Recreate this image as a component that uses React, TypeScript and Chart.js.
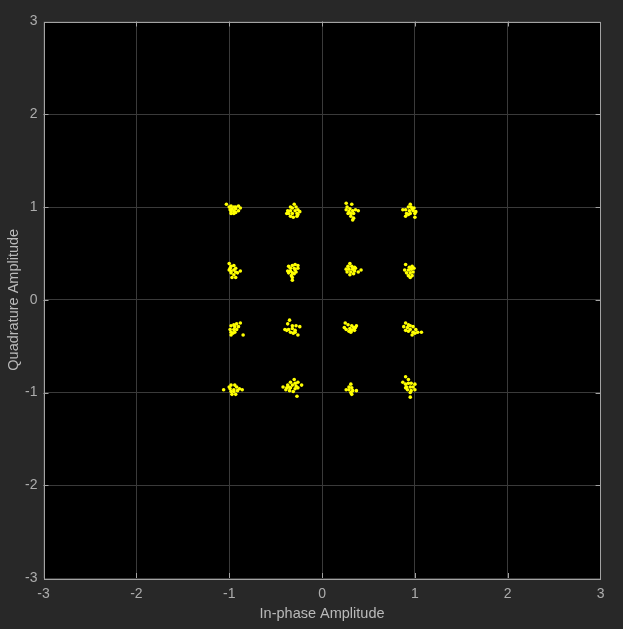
import React, { useEffect, useRef } from "react";
import { Chart, registerables } from "chart.js";

Chart.register(...registerables);

// Axis ticks
const xTicks = [-3, -2, -1, 0, 1, 2, 3];
const yTicks = [-3, -2, -1, 0, 1, 2, 3];

// Received symbols, grouped by constellation point (I, Q)
const symM1P1: [number, number][] = [
  [-1.03, 1.03], [-1.0, 1.0], [-0.98, 1.01], [-0.95, 1.0], [-0.93, 1.0], [-0.9, 1.01], [-0.88, 0.99], [-0.99, 0.97],
  [-0.97, 0.98], [-0.95, 0.96], [-0.93, 0.98], [-0.9, 0.96], [-0.98, 0.95], [-0.95, 0.93], [-0.93, 0.94], [-0.98, 0.93],
];
const symM3P1: [number, number][] = [
  [-0.3, 1.03], [-0.34, 1.0], [-0.32, 0.99], [-0.28, 1.0], [-0.26, 0.97], [-0.37, 0.96], [-0.34, 0.96], [-0.29, 0.96],
  [-0.24, 0.95], [-0.36, 0.93], [-0.32, 0.93], [-0.27, 0.93], [-0.34, 0.9], [-0.31, 0.89], [-0.27, 0.9], [-0.38, 0.93], [-0.26, 0.92],
];
const symP3P1: [number, number][] = [
  [0.26, 1.04], [0.32, 1.03], [0.27, 1.0], [0.3, 0.98], [0.26, 0.97], [0.29, 0.95], [0.33, 0.96], [0.36, 0.97],
  [0.39, 0.96], [0.28, 0.93], [0.31, 0.93], [0.34, 0.93], [0.31, 0.9], [0.34, 0.88], [0.33, 0.86],
];
const symP1P1: [number, number][] = [
  [0.95, 1.03], [0.93, 1.0], [0.96, 1.0], [0.99, 0.99], [0.87, 0.97], [0.9, 0.97], [0.94, 0.96], [0.98, 0.96],
  [1.01, 0.95], [0.91, 0.93], [0.95, 0.93], [1.0, 0.93], [0.9, 0.9], [0.93, 0.92], [1.0, 0.89], [0.97, 0.98],
];
const symM1P3: [number, number][] = [
  [-1.0, 0.39], [-0.98, 0.36], [-0.95, 0.37], [-0.93, 0.34], [-1.0, 0.32], [-0.98, 0.31], [-0.95, 0.32], [-0.93, 0.3],
  [-0.88, 0.31], [-0.98, 0.29], [-0.95, 0.27], [-0.91, 0.29], [-0.93, 0.24], [-0.97, 0.24], [-0.99, 0.34],
];
const symM3P3: [number, number][] = [
  [-0.36, 0.36], [-0.32, 0.37], [-0.29, 0.38], [-0.26, 0.37], [-0.34, 0.34], [-0.3, 0.34], [-0.26, 0.34], [-0.37, 0.31],
  [-0.34, 0.31], [-0.29, 0.32], [-0.36, 0.29], [-0.32, 0.29], [-0.28, 0.3], [-0.33, 0.26], [-0.32, 0.24], [-0.32, 0.21], [-0.3, 0.28],
];
const symP3P3: [number, number][] = [
  [0.3, 0.39], [0.28, 0.36], [0.32, 0.36], [0.35, 0.35], [0.26, 0.33], [0.29, 0.33], [0.33, 0.33], [0.36, 0.34],
  [0.42, 0.32], [0.27, 0.3], [0.31, 0.3], [0.35, 0.31], [0.39, 0.3], [0.3, 0.27], [0.34, 0.28],
];
const symP1P3: [number, number][] = [
  [0.9, 0.38], [0.94, 0.35], [0.97, 0.36], [0.89, 0.32], [0.93, 0.32], [0.96, 0.33], [0.99, 0.34], [0.91, 0.29],
  [0.95, 0.29], [0.98, 0.3], [0.93, 0.26], [0.97, 0.26], [0.95, 0.24],
];
const symM1M3: [number, number][] = [
  [-0.88, -0.25], [-0.92, -0.26], [-0.95, -0.27], [-0.98, -0.28], [-0.94, -0.29], [-0.9, -0.29], [-0.99, -0.32],
  [-0.95, -0.32], [-0.92, -0.32], [-0.98, -0.35], [-0.94, -0.35], [-0.85, -0.38], [-0.98, -0.38], [-0.96, -0.36],
];
const symM3M3: [number, number][] = [
  [-0.35, -0.22], [-0.37, -0.26], [-0.32, -0.28], [-0.28, -0.28], [-0.24, -0.29], [-0.4, -0.32], [-0.36, -0.32],
  [-0.32, -0.31], [-0.29, -0.33], [-0.34, -0.35], [-0.29, -0.35], [-0.26, -0.38], [-0.31, -0.36], [-0.38, -0.33],
];
const symP3M3: [number, number][] = [
  [0.25, -0.25], [0.24, -0.3], [0.28, -0.27], [0.32, -0.28], [0.37, -0.28], [0.26, -0.32], [0.3, -0.31], [0.34, -0.3],
  [0.36, -0.3], [0.29, -0.34], [0.32, -0.33], [0.35, -0.33], [0.31, -0.35],
];
const symP1M3: [number, number][] = [
  [0.9, -0.25], [0.93, -0.27], [0.88, -0.29], [0.92, -0.3], [0.95, -0.28], [0.98, -0.29], [1.01, -0.32], [0.9, -0.33],
  [0.93, -0.34], [0.98, -0.35], [1.03, -0.35], [1.07, -0.35], [1.0, -0.36], [0.97, -0.38], [0.95, -0.32],
];
const symM1M1: [number, number][] = [
  [-1.06, -0.97], [-0.98, -0.92], [-0.94, -0.92], [-0.92, -0.94], [-0.89, -0.96], [-0.86, -0.97], [-0.99, -0.96],
  [-0.95, -0.97], [-0.98, -0.99], [-0.95, -0.99], [-0.91, -0.98], [-0.97, -1.02], [-0.93, -1.02], [-1.0, -0.94],
];
const symM3M1: [number, number][] = [
  [-0.3, -0.86], [-0.34, -0.89], [-0.29, -0.9], [-0.26, -0.89], [-0.37, -0.92], [-0.32, -0.92], [-0.28, -0.93],
  [-0.22, -0.92], [-0.42, -0.94], [-0.38, -0.95], [-0.34, -0.95], [-0.29, -0.96], [-0.26, -0.95], [-0.39, -0.97],
  [-0.35, -0.98], [-0.31, -0.99], [-0.27, -1.04], [-0.36, -0.94],
];
const symP3M1: [number, number][] = [
  [0.31, -0.91], [0.29, -0.94], [0.32, -0.95], [0.26, -0.97], [0.29, -0.97], [0.33, -0.98], [0.37, -0.98],
  [0.31, -1.0], [0.32, -1.02],
];
const symP1M1: [number, number][] = [
  [0.9, -0.83], [0.93, -0.86], [0.87, -0.89], [0.9, -0.91], [0.93, -0.9], [0.96, -0.9], [1.0, -0.91], [0.91, -0.94],
  [0.95, -0.94], [0.98, -0.94], [0.92, -0.97], [0.96, -0.98], [1.0, -0.97], [0.95, -1.0], [0.95, -1.05], [0.9, -0.95],
];

const clusters = [
  symM1P1, symM3P1, symP3P1, symP1P1,
  symM1P3, symM3P3, symP3P3, symP1P3,
  symM1M3, symM3M3, symP3M3, symP1M3,
  symM1M1, symM3M1, symP3M1, symP1M1,
];

const BOX = "#a3a3a3";
const FONT = "'Liberation Sans', Arial, Helvetica, sans-serif";

const framePlugin = {
  id: "frame",
  beforeDraw(chart: any) {
    const { ctx, chartArea, width, height } = chart;
    ctx.save();
    ctx.fillStyle = "#282828";
    ctx.fillRect(0, 0, width, height);
    ctx.fillStyle = "#000000";
    ctx.fillRect(chartArea.left, chartArea.top, chartArea.right - chartArea.left, chartArea.bottom - chartArea.top);
    ctx.restore();
  },
  afterDatasetsDraw(chart: any) {
    const { ctx, chartArea } = chart;
    const xs = chart.scales.x;
    const ys = chart.scales.y;
    const len = 5;
    ctx.save();
    ctx.strokeStyle = BOX;
    ctx.lineWidth = 1;
    ctx.beginPath();
    for (const v of xTicks.slice(1, -1)) {
      const px = Math.round(xs.getPixelForValue(v)) + 0.5;
      ctx.moveTo(px, chartArea.bottom);
      ctx.lineTo(px, chartArea.bottom - len);
      ctx.moveTo(px, chartArea.top);
      ctx.lineTo(px, chartArea.top + len);
    }
    for (const v of yTicks.slice(1, -1)) {
      const py = Math.round(ys.getPixelForValue(v)) + 0.5;
      ctx.moveTo(chartArea.left, py);
      ctx.lineTo(chartArea.left + len, py);
      ctx.moveTo(chartArea.right, py);
      ctx.lineTo(chartArea.right - len, py);
    }
    ctx.stroke();
    ctx.strokeRect(
      Math.round(chartArea.left) + 0.5,
      Math.round(chartArea.top) + 0.5,
      Math.round(chartArea.right - chartArea.left) - 1,
      Math.round(chartArea.bottom - chartArea.top)
    );
    ctx.restore();
  },
};

export default function App() {
  const ref = useRef<HTMLCanvasElement | null>(null);

  useEffect(() => {
    if (!ref.current) return;
    const chart = new Chart(ref.current, {
      type: "scatter",
      data: {
        datasets: clusters.map((pts) => ({
          data: pts.map(([x, y]) => ({ x, y })),
          backgroundColor: "#ffff00",
          borderWidth: 0,
          pointRadius: 1.8,
          pointHoverRadius: 1.8,
        })),
      },
      options: {
        animation: false,
        responsive: false,
        events: [],
        layout: { padding: { left: 0, top: 21.5, right: 22.4, bottom: 0 } },
        plugins: { legend: { display: false }, tooltip: { enabled: false } },
        scales: {
          x: {
            type: "linear",
            min: -3,
            max: 3,
            afterBuildTicks: (s: any) => {
              s.ticks = xTicks.map((v) => ({ value: v }));
            },
            afterFit: (s: any) => {
              s.height = 51;
            },
            grid: { color: "#3a3a3a", drawTicks: false },
            border: { display: false },
            ticks: { color: "#adadad", padding: 7.5, font: { family: FONT, size: 14 } },
            title: {
              display: true,
              text: "In-phase Amplitude",
              color: "#bababa",
              font: { family: FONT, size: 14.5 },
              padding: { top: 0, bottom: 6.5 },
            },
          },
          y: {
            type: "linear",
            min: -3,
            max: 3,
            afterBuildTicks: (s: any) => {
              s.ticks = yTicks.map((v) => ({ value: v }));
            },
            afterFit: (s: any) => {
              s.width = 43.5;
            },
            grid: { color: "#3a3a3a", drawTicks: false },
            border: { display: false },
            ticks: { color: "#adadad", padding: 6, font: { family: FONT, size: 14 } },
            title: {
              display: true,
              text: "Quadrature Amplitude",
              color: "#bababa",
              font: { family: FONT, size: 14.5 },
              padding: { top: 5, bottom: 0 },
            },
          },
        },
      },
      plugins: [framePlugin],
    });
    return () => chart.destroy();
  }, []);

  return (
    <div style={{ position: "fixed", left: 0, top: 0, width: 623, height: 629, background: "#282828" }}>
      <canvas ref={ref} width={623} height={629} style={{ display: "block" }} />
    </div>
  );
}
